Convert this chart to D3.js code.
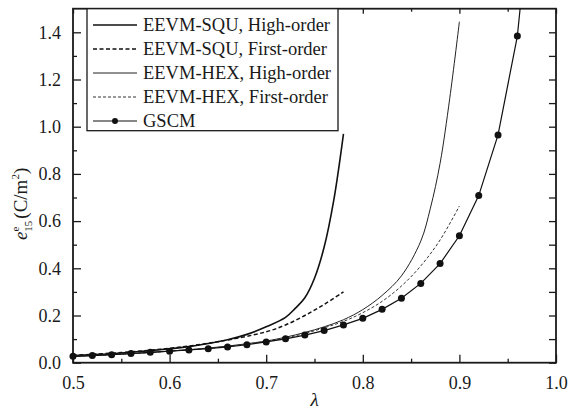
<!DOCTYPE html>
<html>
<head>
<meta charset="utf-8">
<script src="https://cdn.jsdelivr.net/npm/d3@7"></script>
</head>
<body style="margin:0; background:#fff">
<div id="chart"></div>
<script>
// data ----------------------------------------------------------------------------------
const xTicks = [0.5, 0.6, 0.7, 0.8, 0.9, 1.0];
const yTicks = [0.0, 0.2, 0.4, 0.6, 0.8, 1.0, 1.2, 1.4];

const squHighX = [0.50, 0.52, 0.54, 0.56, 0.58, 0.60, 0.62, 0.64, 0.66, 0.68, 0.70, 0.72, 0.73, 0.74, 0.75, 0.76, 0.77, 0.78];
const squHighY = [0.030, 0.034, 0.038, 0.044, 0.051, 0.059, 0.068, 0.081, 0.097, 0.120, 0.152, 0.192, 0.230, 0.275, 0.358, 0.490, 0.690, 0.970];

const squFirstX = [0.50, 0.55, 0.60, 0.65, 0.70, 0.72, 0.74, 0.76, 0.78];
const squFirstY = [0.031, 0.043, 0.061, 0.089, 0.131, 0.160, 0.200, 0.247, 0.300];

const hexHighX = [0.50, 0.55, 0.60, 0.65, 0.70, 0.72, 0.74, 0.76, 0.78, 0.80, 0.82, 0.84, 0.86, 0.87, 0.88, 0.89, 0.90];
const hexHighY = [0.027, 0.036, 0.049, 0.066, 0.092, 0.108, 0.128, 0.152, 0.182, 0.225, 0.285, 0.368, 0.515, 0.655, 0.845, 1.120, 1.445];

const hexFirstX = [0.50, 0.55, 0.60, 0.65, 0.70, 0.72, 0.74, 0.76, 0.78, 0.80, 0.82, 0.84, 0.86, 0.88, 0.90];
const hexFirstY = [0.027, 0.036, 0.049, 0.065, 0.090, 0.105, 0.124, 0.148, 0.175, 0.212, 0.260, 0.325, 0.410, 0.520, 0.664];

const gscmX = [0.50, 0.52, 0.54, 0.56, 0.58, 0.60, 0.62, 0.64, 0.66, 0.68, 0.70, 0.72, 0.74, 0.76, 0.78, 0.80, 0.82, 0.84, 0.86, 0.88, 0.90, 0.92, 0.94, 0.96, 0.98];
const gscmY = [0.027, 0.030, 0.034, 0.039, 0.044, 0.049, 0.054, 0.059, 0.067, 0.076, 0.088, 0.101, 0.117, 0.136, 0.160, 0.188, 0.226, 0.273, 0.336, 0.420, 0.538, 0.708, 0.965, 1.384, 2.200];

const seriesNames = ['EEVM-SQU, High-order', 'EEVM-SQU, First-order', 'EEVM-HEX, High-order', 'EEVM-HEX, First-order', 'GSCM'];

// chart ---------------------------------------------------------------------------------
const width = 570;
const height = 415;
const margin = { top: 8.7, right: 14, bottom: 52.3, left: 73 };
const ink = '#1a1a1a';
const serif = '"Liberation Serif"';

const svg = d3.select('#chart')
    .append('svg')
    .attr('width', width)
    .attr('height', height);

const x = d3.scaleLinear()
    .domain([0.5, 1.0])
    .range([margin.left, width - margin.right]);

const y = d3.scaleLinear()
    .domain([0, 1.5])
    .range([height - margin.bottom, margin.top]);

// clip only the top edge, so the first GSCM dot stays whole
svg.append('clipPath')
    .attr('id', 'plot-clip')
    .append('rect')
    .attr('x', 0)
    .attr('y', y(1.5))
    .attr('width', width)
    .attr('height', height - y(1.5));

// axes: major + minor ticks, all pointing inward
const xMinor = d3.range(0.55, 1.0, 0.1);
const yMinor = d3.range(0.1, 1.5, 0.2);

function styleAxis(g) {
    g.attr('font-family', 'Liberation Serif');
    g.select('.domain').remove();
    g.selectAll('.tick line').attr('stroke', ink).attr('stroke-width', 1.3);
    g.selectAll('.tick text')
        .attr('fill', ink)
        .attr('font-size', 18)
        .style('font-family', serif);
}

// bottom
svg.append('g')
    .attr('transform', `translate(0,${y(0)})`)
    .call(d3.axisBottom(x).tickValues(xTicks).tickFormat(d3.format('.1f')).tickSizeInner(-8).tickPadding(14))
    .call(styleAxis);
svg.append('g')
    .attr('transform', `translate(0,${y(0)})`)
    .call(d3.axisBottom(x).tickValues(xMinor).tickFormat('').tickSizeInner(-4))
    .call(styleAxis);

// top
svg.append('g')
    .attr('transform', `translate(0,${y(1.5)})`)
    .call(d3.axisTop(x).tickValues(xTicks).tickFormat('').tickSizeInner(-5))
    .call(styleAxis);
svg.append('g')
    .attr('transform', `translate(0,${y(1.5)})`)
    .call(d3.axisTop(x).tickValues(xMinor).tickFormat('').tickSizeInner(-3))
    .call(styleAxis);

// left
svg.append('g')
    .attr('transform', `translate(${x(0.5)},0)`)
    .call(d3.axisLeft(y).tickValues(yTicks).tickFormat(d3.format('.1f')).tickSizeInner(-8).tickPadding(12))
    .call(styleAxis);
svg.append('g')
    .attr('transform', `translate(${x(0.5)},0)`)
    .call(d3.axisLeft(y).tickValues(yMinor).tickFormat('').tickSizeInner(-4))
    .call(styleAxis);

// right
svg.append('g')
    .attr('transform', `translate(${x(1.0)},0)`)
    .call(d3.axisRight(y).tickValues(yTicks).tickFormat('').tickSizeInner(-7))
    .call(styleAxis);
svg.append('g')
    .attr('transform', `translate(${x(1.0)},0)`)
    .call(d3.axisRight(y).tickValues(yMinor).tickFormat('').tickSizeInner(-7))
    .call(styleAxis);

// frame
svg.append('rect')
    .attr('x', x(0.5))
    .attr('y', y(1.5))
    .attr('width', x(1.0) - x(0.5))
    .attr('height', y(0) - y(1.5))
    .attr('fill', 'none')
    .attr('stroke', ink)
    .attr('stroke-width', 1.8);

// curves
const smooth = d3.line()
    .x(d => x(d[0]))
    .y(d => y(d[1]))
    .curve(d3.curveCatmullRom.alpha(0.5));

const straight = d3.line()
    .x(d => x(d[0]))
    .y(d => y(d[1]));

const zip = (xs, ys) => xs.map((v, i) => [v, ys[i]]);

const series = [
    { name: seriesNames[0], pts: zip(squHighX, squHighY), width: 1.6, dash: null, color: '#111' },
    { name: seriesNames[1], pts: zip(squFirstX, squFirstY), width: 1.5, dash: '4,2.5', color: '#111' },
    { name: seriesNames[2], pts: zip(hexHighX, hexHighY), width: 1.0, dash: null, color: '#222' },
    { name: seriesNames[3], pts: zip(hexFirstX, hexFirstY), width: 1.0, dash: '3,2', color: '#333' },
    { name: seriesNames[4], pts: zip(gscmX, gscmY), width: 1.2, dash: null, color: '#111', marker: true }
];

const plot = svg.append('g').attr('clip-path', 'url(#plot-clip)');

series.forEach(s => {
    plot.append('path')
        .datum(s.pts)
        .attr('fill', 'none')
        .attr('stroke', s.color)
        .attr('stroke-width', s.width)
        .attr('stroke-dasharray', s.dash)
        .attr('d', s.marker ? straight : smooth);
    if (s.marker) {
        plot.selectAll('circle.gscm')
            .data(s.pts)
            .join('circle')
            .attr('class', 'gscm')
            .attr('cx', d => x(d[0]))
            .attr('cy', d => y(d[1]))
            .attr('r', 3.5)
            .attr('fill', '#111');
    }
});

// legend
svg.append('rect')
    .attr('x', 87)
    .attr('y', y(1.5))
    .attr('width', 251)
    .attr('height', 122)
    .attr('fill', '#fff')
    .attr('stroke', ink)
    .attr('stroke-width', 1.3);

const legend = svg.append('g')
    .attr('font-family', 'Liberation Serif')
    .selectAll('g')
    .data(series)
    .join('g')
    .attr('transform', (d, i) => `translate(93,${25 + i * 24})`);

legend.append('line')
    .attr('x1', 0)
    .attr('x2', 44)
    .attr('stroke', d => d.color)
    .attr('stroke-width', d => d.width)
    .attr('stroke-dasharray', d => d.dash);

legend.filter(d => d.marker)
    .append('circle')
    .attr('cx', 22)
    .attr('r', 3)
    .attr('fill', '#111');

legend.append('text')
    .attr('x', 50)
    .attr('dy', '0.35em')
    .attr('font-size', 18.5)
    .style('font-family', serif)
    .attr('fill', ink)
    .text(d => d.name);

// axis titles
svg.append('text')
    .attr('x', x(0.75))
    .attr('y', 406)
    .attr('text-anchor', 'middle')
    .attr('font-size', 19)
    .attr('font-style', 'italic')
    .style('font-family', serif)
    .attr('fill', ink)
    .text('λ');

const yTitle = svg.append('text')
    .attr('transform', 'translate(27,240) rotate(-90)')
    .attr('font-size', 19)
    .style('font-family', serif)
    .attr('fill', ink);
yTitle.append('tspan').attr('font-style', 'italic').text('e');
yTitle.append('tspan').attr('font-size', 11).attr('dy', -8).text('e');
yTitle.append('tspan').attr('font-size', 11).attr('dx', -5).attr('dy', 13).text('15');
yTitle.append('tspan').attr('dy', -5).attr('dx', 2).text('(C/m');
yTitle.append('tspan').attr('font-size', 11).attr('dy', -8).text('2');
yTitle.append('tspan').attr('dy', 8).text(')');
</script>
</body>
</html>
